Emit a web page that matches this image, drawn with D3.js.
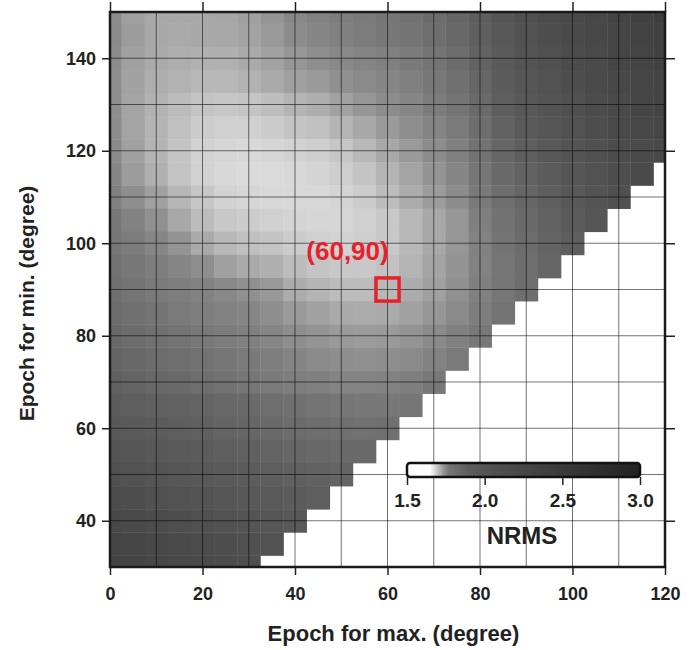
<!DOCTYPE html>
<html>
<head>
<meta charset="utf-8">
<script src="https://cdn.jsdelivr.net/npm/d3@7"></script>
<style>
  body { margin: 0; background: #fff; }
  svg text { font-family: "Liberation Sans", Arial, sans-serif; font-weight: bold; fill: #222; }
</style>
</head>
<body>
<div class="chart"></div>
<script>
const width = 699;
const height = 650;

// epoch for max (columns) and epoch for min (rows, top to bottom)
const epochMax = [0, 5, 10, 15, 20, 25, 30, 35, 40, 45, 50, 55, 60, 65, 70, 75, 80, 85, 90, 95, 100, 105, 110, 115, 120];
const epochMin = [150, 145, 140, 135, 130, 125, 120, 115, 110, 105, 100, 95, 90, 85, 80, 75, 70, 65, 60, 55, 50, 45, 40, 35, 30];

// NRMS per row (same order as epochMin), only cells with max <= min
const nrms = [
  [1.743,1.727,1.720,1.720,1.720,1.722,1.727,1.737,1.747,1.752,1.755,1.758,1.77,1.79,1.82,1.85,1.89,1.99,2.07,2.14,2.18,2.22,2.30,2.34,2.42],
  [1.745,1.730,1.720,1.718,1.720,1.720,1.724,1.732,1.743,1.748,1.753,1.757,1.760,1.78,1.81,1.84,1.88,1.96,2.04,2.10,2.18,2.22,2.26,2.34,2.38],
  [1.743,1.727,1.718,1.715,1.713,1.713,1.718,1.725,1.735,1.742,1.747,1.750,1.753,1.758,1.78,1.82,1.87,1.93,2.01,2.07,2.14,2.18,2.26,2.30,2.34],
  [1.742,1.725,1.715,1.712,1.707,1.707,1.712,1.718,1.727,1.732,1.740,1.745,1.748,1.753,1.760,1.80,1.85,1.90,1.99,2.04,2.10,2.18,2.22,2.26,2.30],
  [1.742,1.723,1.712,1.703,1.697,1.695,1.697,1.702,1.710,1.715,1.725,1.735,1.743,1.748,1.757,1.78,1.83,1.89,1.96,2.01,2.07,2.14,2.18,2.26,2.30],
  [1.743,1.723,1.710,1.700,1.690,1.687,1.687,1.690,1.697,1.700,1.710,1.720,1.732,1.742,1.750,1.758,1.81,1.87,1.93,1.99,2.04,2.10,2.18,2.22,2.26],
  [1.745,1.727,1.710,1.697,1.685,1.682,1.680,1.682,1.685,1.688,1.695,1.707,1.720,1.732,1.743,1.753,1.79,1.85,1.89,1.96,2.01,2.07,2.14,2.18,2.22],
  [1.748,1.730,1.713,1.697,1.685,1.680,1.678,1.678,1.680,1.683,1.688,1.697,1.710,1.723,1.737,1.748,1.77,1.83,1.87,1.90,1.99,2.04,2.10,2.18],
  [1.753,1.742,1.727,1.708,1.695,1.685,1.682,1.680,1.680,1.680,1.683,1.690,1.703,1.717,1.730,1.743,1.758,1.81,1.85,1.89,1.96,2.01,2.07],
  [1.760,1.752,1.740,1.720,1.703,1.693,1.690,1.687,1.683,1.682,1.682,1.687,1.693,1.707,1.720,1.735,1.753,1.79,1.83,1.87,1.90,1.99],
  [1.77,1.757,1.748,1.737,1.718,1.707,1.700,1.697,1.690,1.687,1.685,1.688,1.693,1.707,1.720,1.735,1.752,1.78,1.82,1.86,1.89],
  [1.79,1.760,1.755,1.748,1.742,1.727,1.718,1.713,1.703,1.697,1.693,1.693,1.698,1.710,1.723,1.737,1.752,1.77,1.81,1.85],
  [1.80,1.78,1.758,1.755,1.752,1.747,1.740,1.733,1.717,1.710,1.703,1.703,1.707,1.717,1.727,1.740,1.753,1.77,1.81],
  [1.82,1.80,1.78,1.758,1.755,1.752,1.748,1.742,1.732,1.725,1.718,1.717,1.718,1.725,1.735,1.745,1.755,1.78],
  [1.84,1.82,1.80,1.78,1.760,1.757,1.753,1.748,1.742,1.737,1.732,1.730,1.732,1.737,1.745,1.753,1.760],
  [1.86,1.84,1.82,1.81,1.79,1.77,1.758,1.755,1.750,1.745,1.742,1.740,1.742,1.745,1.752,1.758],
  [1.88,1.86,1.84,1.83,1.81,1.79,1.77,1.758,1.755,1.753,1.750,1.750,1.752,1.755,1.760],
  [1.90,1.89,1.88,1.87,1.86,1.84,1.83,1.81,1.80,1.78,1.77,1.760,1.760,1.77],
  [1.96,1.93,1.90,1.89,1.88,1.86,1.85,1.83,1.82,1.81,1.80,1.79,1.80],
  [2.01,1.99,1.96,1.93,1.90,1.89,1.88,1.86,1.85,1.84,1.83,1.83],
  [2.07,2.04,2.01,1.99,1.96,1.93,1.90,1.89,1.88,1.87,1.86],
  [2.14,2.10,2.07,2.04,2.01,1.99,1.96,1.93,1.90,1.89],
  [2.22,2.18,2.14,2.10,2.07,2.04,2.01,1.99,1.96],
  [2.30,2.26,2.22,2.18,2.14,2.10,2.07,2.04],
  [2.34,2.30,2.26,2.22,2.18,2.14,2.10]
];

const xTicks = [0, 20, 40, 60, 80, 100, 120];
const yTicks = [40, 60, 80, 100, 120, 140];
const barTicks = [1.5, 2.0, 2.5, 3.0];
const best = { max: 60, min: 90, label: "(60,90)" };

const svg = d3.select(".chart").append("svg").attr("width", width).attr("height", height);

const x = d3.scaleLinear().domain([0, 120]).range([110, 665]);
const y = d3.scaleLinear().domain([30, 150]).range([567, 12]);

// grey ramp as in the colour bar: white until ~1.65, fast drop, then slow darkening
const color = d3.scaleLinear()
    .domain([1.5, 1.65, 1.76, 1.9, 2.1, 2.3, 2.5, 3.0])
    .range([255, 252, 120, 92, 78, 68, 58, 34].map(g => `rgb(${g},${g},${g})`))
    .clamp(true);

const half = 2.5;
const cells = [];
nrms.forEach((row, i) => {
  row.forEach((v, j) => cells.push({ mx: epochMax[j], mn: epochMin[i], v: v }));
});

svg.append("g")
  .selectAll("rect")
  .data(cells)
  .enter()
    .append("rect")
    .attr("x", d => x(Math.max(0, d.mx - half)))
    .attr("width", d => x(Math.min(120, d.mx + half)) - x(Math.max(0, d.mx - half)) + 0.4)
    .attr("y", d => y(Math.min(150, d.mn + half)))
    .attr("height", d => y(Math.max(30, d.mn - half)) - y(Math.min(150, d.mn + half)) + 0.4)
    .attr("fill", d => color(d.v));

// grid every 10 degrees
const grid = svg.append("g").attr("stroke", "#000").attr("stroke-opacity", 0.55).attr("stroke-width", 1);
grid.selectAll(".gx").data(x.ticks(12)).enter().append("line")
    .attr("x1", d => x(d)).attr("x2", d => x(d)).attr("y1", y(30)).attr("y2", y(150));
grid.selectAll(".gy").data(y.ticks(12)).enter().append("line")
    .attr("y1", d => y(d)).attr("y2", d => y(d)).attr("x1", x(0)).attr("x2", x(120));

// best combination marker
svg.append("rect")
    .attr("x", x(best.max - half)).attr("y", y(best.min + half))
    .attr("width", x(best.max + half) - x(best.max - half))
    .attr("height", y(best.min - half) - y(best.min + half))
    .attr("fill", "none").attr("stroke", "#e8202a").attr("stroke-width", 3.5);
svg.append("text")
    .attr("x", x(best.max) - 40).attr("y", y(best.min) - 30)
    .attr("text-anchor", "middle")
    .style("font-size", "26px").style("fill", "#e8202a")
    .text(best.label);

// axes on all four sides
const axisStyle = size => g => {
  g.select(".domain").remove();
  g.selectAll(".tick line").attr("stroke", "#222").attr("stroke-width", 1.5);
  g.selectAll(".tick text").style("font-size", size).style("fill", "#222");
};
svg.append("g").attr("transform", `translate(0,${y(30)})`)
  .call(d3.axisBottom(x).tickValues(xTicks).tickSize(8).tickPadding(12).tickFormat(d3.format("d"))).call(axisStyle("18px"));
svg.append("g").attr("transform", `translate(0,${y(150)})`)
  .call(d3.axisTop(x).tickValues(xTicks).tickSize(10).tickFormat("")).call(axisStyle("18px"));
svg.append("g").attr("transform", `translate(${x(0)},0)`)
  .call(d3.axisLeft(y).tickValues(yTicks).tickSize(8).tickPadding(6).tickFormat(d3.format("d"))).call(axisStyle("18px"));
svg.append("g").attr("transform", `translate(${x(120)},0)`)
  .call(d3.axisRight(y).tickValues(yTicks).tickSize(10).tickFormat("")).call(axisStyle("18px"));

svg.append("rect")
    .attr("x", x(0)).attr("y", y(150))
    .attr("width", x(120) - x(0)).attr("height", y(30) - y(150))
    .attr("fill", "none").attr("stroke", "#1a1a1a").attr("stroke-width", 2.5);

svg.append("text")
    .attr("x", (x(0) + x(120)) / 2 + 6).attr("y", 641)
    .attr("text-anchor", "middle").style("font-size", "22px")
    .text("Epoch for max. (degree)");
svg.append("text")
    .attr("transform", `translate(34,${(y(30) + y(150)) / 2 + 14}) rotate(-90)`)
    .attr("text-anchor", "middle").style("font-size", "21px")
    .text("Epoch for min. (degree)");

// colour bar
const bar = d3.scaleLinear().domain([1.5, 3.0]).range([407, 640]);
const grad = svg.append("defs").append("linearGradient").attr("id", "nrmsGrad");
grad.selectAll("stop").data(d3.range(0, 1.0001, 0.02)).enter().append("stop")
    .attr("offset", d => `${d * 100}%`)
    .attr("stop-color", d => color(1.5 + d * 1.5));
svg.append("rect")
    .attr("x", bar(1.5)).attr("y", 463).attr("width", bar(3.0) - bar(1.5)).attr("height", 14)
    .attr("rx", 3).attr("fill", "url(#nrmsGrad)").attr("stroke", "#111").attr("stroke-width", 2.5);
svg.append("g").attr("transform", "translate(0,477)")
  .call(d3.axisBottom(bar).tickValues(barTicks).tickSize(8).tickPadding(9).tickFormat(d3.format(".1f"))).call(axisStyle("19px"));
svg.append("text")
    .attr("x", 522).attr("y", 544)
    .attr("text-anchor", "middle").style("font-size", "24px")
    .text("NRMS");
</script>
</body>
</html>
